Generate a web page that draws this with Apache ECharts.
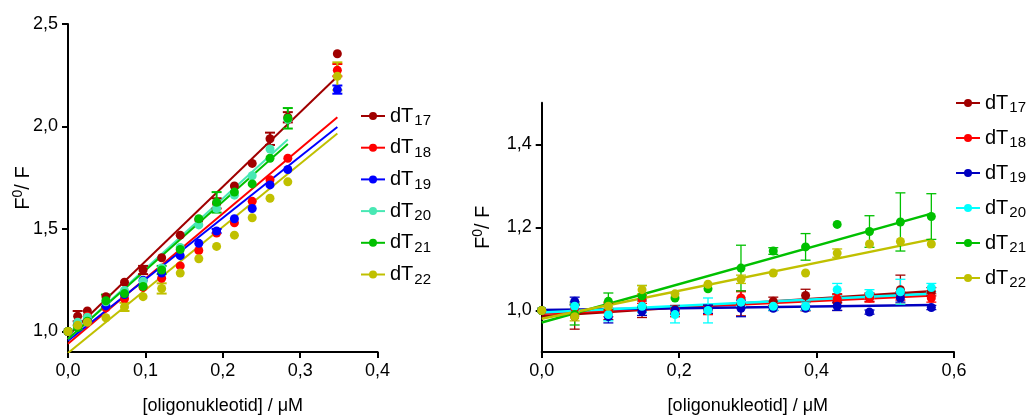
<!DOCTYPE html>
<html><head><meta charset="utf-8">
<script src="https://cdn.jsdelivr.net/npm/echarts@6/dist/echarts.min.js"></script>
<style>html,body{margin:0;padding:0;background:#fff}#c{width:1035px;height:420px}</style>
</head><body><div id="c"></div>
<script>
// ---------- data ----------
const subs = ['17', '18', '19', '20', '21', '22'];
const colorsL = ['#a00000', '#ff0000', '#0000ff', '#48e8b4', '#00c000', '#c0c000'];
const colorsR = ['#a00000', '#ff0000', '#0000c0', '#00ffff', '#00c000', '#c0c000'];

// left panel
const xL = [0, 0.0125, 0.025, 0.049, 0.073, 0.097, 0.121, 0.145, 0.169, 0.192, 0.215, 0.238, 0.261, 0.284, 0.348];
const yL17 = [1.0, 1.075, 1.10, 1.17, 1.24, 1.30, 1.36, 1.47, 1.545, 1.625, 1.71, 1.82, 1.94, 2.045, 2.355];
const yL18 = [1.0, 1.045, 1.075, 1.115, 1.16, 1.215, 1.26, 1.32, 1.395, 1.48, 1.53, 1.635, 1.74, 1.845, 2.275];
const yL19 = [1.0, 1.04, 1.06, 1.125, 1.18, 1.25, 1.285, 1.37, 1.43, 1.49, 1.55, 1.60, 1.715, 1.79, 2.18];
const yL20 = [1.0, 1.045, 1.07, 1.145, 1.20, 1.245, 1.31, 1.41, 1.52, 1.60, 1.665, 1.76, 1.89, 2.035, null];
const yL21 = [1.0, 1.02, 1.05, 1.15, 1.185, 1.22, 1.30, 1.40, 1.55, 1.63, 1.68, 1.72, 1.845, 2.04, null];
const yL22 = [1.0, 1.03, 1.045, 1.067, 1.12, 1.17, 1.21, 1.285, 1.355, 1.415, 1.47, 1.555, 1.65, 1.73, 2.245];
const eL17 = [0, 0.025, 0, 0, 0, 0.02, 0, 0, 0, 0.025, 0, 0, 0.03, 0.025, 0];
const eL18 = [0, 0, 0, 0, 0, 0, 0, 0, 0, 0, 0, 0, 0, 0, 0.03];
const eL19 = [0, 0, 0, 0, 0, 0, 0, 0, 0, 0.01, 0, 0, 0, 0, 0.02];
const eL20 = [0, 0, 0, 0, 0, 0, 0, 0, 0, 0, 0, 0, 0, 0, 0];
const eL21 = [0, 0.01, 0, 0.03, 0, 0, 0.02, 0, 0, 0.05, 0, 0, 0, 0.05, 0];
const eL22 = [0, 0, 0, 0, 0.02, 0, 0.025, 0, 0, 0, 0, 0, 0, 0, 0.068];
// fitted lines [x0, y0, x1, y1]
const fitL17 = [0, 0.979, 0.348, 2.244];
const fitL18 = [0, 0.940, 0.348, 2.045];
const fitL19 = [0, 0.955, 0.348, 1.998];
const fitL20 = [0, 0.963, 0.284, 1.937];
const fitL21 = [0, 0.963, 0.284, 1.915];
const fitL22 = [0, 0.895, 0.348, 1.966];

// right panel
const xR = [0, 0.048, 0.097, 0.146, 0.194, 0.242, 0.29, 0.337, 0.384, 0.43, 0.477, 0.522, 0.567];
const yR17 = [1.0, 0.985, 0.998, 1.003, 1.002, 1.002, 1.017, 1.022, 1.036, 1.02, 1.032, 1.05, 1.045];
const yR18 = [1.0, 1.005, 0.995, 1.027, 0.995, 1.0, 1.03, 1.01, 1.009, 1.028, 1.03, 1.035, 1.03];
const yR19 = [1.0, 1.022, 0.985, 0.998, 1.0, 1.003, 1.005, 1.005, 1.005, 1.01, 0.996, 1.03, 1.007];
const yR20 = [1.0, 1.01, 0.99, 1.01, 0.99, 1.0, 1.02, 1.01, 1.01, 1.05, 1.04, 1.045, 1.055];
const yR21 = [1.0, 0.99, 1.022, 1.035, 1.03, 1.052, 1.102, 1.143, 1.153, 1.207, 1.19, 1.213, 1.226];
const yR22 = [1.0, 0.985, 1.01, 1.05, 1.04, 1.063, 1.075, 1.09, 1.09, 1.138, 1.16, 1.166, 1.16];
const eR17 = [0, 0.03, 0.02, 0.02, 0.01, 0.01, 0.03, 0.01, 0.015, 0.02, 0.01, 0.035, 0.01];
const eR18 = [0, 0.015, 0.01, 0.01, 0.01, 0.01, 0.015, 0.01, 0.01, 0.01, 0.01, 0.01, 0.01];
const eR19 = [0, 0.01, 0.015, 0.01, 0.01, 0.01, 0.02, 0.005, 0.005, 0.01, 0.005, 0.01, 0.005];
const eR20 = [0, 0.01, 0.015, 0.015, 0.02, 0.03, 0.01, 0.01, 0.01, 0.015, 0.01, 0.03, 0.01];
const eR21 = [0, 0.025, 0.02, 0.025, 0, 0, 0.055, 0.008, 0.032, 0, 0.038, 0.07, 0.055];
const eR22 = [0, 0.01, 0.01, 0.01, 0, 0, 0.01, 0, 0, 0.01, 0, 0, 0];
const fitR17 = [0, 0.986, 0.567, 1.046];
const fitR18 = [0, 0.992, 0.567, 1.036];
const fitR19 = [0, 1.001, 0.567, 1.013];
const fitR20 = [0, 0.995, 0.567, 1.04];
const fitR21 = [0, 0.971, 0.567, 1.233];
const fitR22 = [0, 0.980, 0.567, 1.171];

const tickLabelsYL = [1.0, 1.5, 2.0, 2.5];
const tickLabelsYR = [1.0, 1.2, 1.4];

// ---------- build ----------
const panels = [
  { x: xL, ys: [yL17, yL18, yL19, yL20, yL21, yL22], es: [eL17, eL18, eL19, eL20, eL21, eL22],
    fits: [fitL17, fitL18, fitL19, fitL20, fitL21, fitL22], colors: colorsL, prefix: 'L', lw: 2, elw: 2 },
  { x: xR, ys: [yR17, yR18, yR19, yR20, yR21, yR22], es: [eR17, eR18, eR19, eR20, eR21, eR22],
    fits: [fitR17, fitR18, fitR19, fitR20, fitR21, fitR22], colors: colorsR, prefix: 'R', lw: 2.5, elw: 1.3 }
];

function errRender(color, lw, cap) {
  return function (params, api) {
    const x = api.value(0), lo = api.value(1), hi = api.value(2);
    const p1 = api.coord([x, hi]), p2 = api.coord([x, lo]);
    const h = cap / 2;
    const st = { stroke: color, lineWidth: lw };
    return { type: 'group', children: [
      { type: 'line', shape: { x1: p1[0], y1: p1[1], x2: p2[0], y2: p2[1] }, style: st },
      { type: 'line', shape: { x1: p1[0] - h, y1: p1[1], x2: p1[0] + h, y2: p1[1] }, style: st },
      { type: 'line', shape: { x1: p2[0] - h, y1: p2[1], x2: p2[0] + h, y2: p2[1] }, style: st }
    ]};
  };
}

const series = [];
panels.forEach((p, pi) => {
  p.ys.forEach((ys, si) => {
    const name = p.prefix + subs[si];
    const c = p.colors[si];
    const f = p.fits[si];
    series.push({ type: 'line', name, xAxisIndex: pi, yAxisIndex: pi, data: [[f[0], f[1]], [f[2], f[3]]],
      symbol: 'circle', symbolSize: 9, showSymbol: false, color: c, lineStyle: { color: c, width: p.lw },
      clip: true, silent: true, z: 2 });
    const errData = [];
    p.x.forEach((x, k) => { const e = p.es[si][k]; if (ys[k] != null && e > 0) errData.push([x, ys[k] - e, ys[k] + e]); });
    series.push({ type: 'custom', name, xAxisIndex: pi, yAxisIndex: pi, data: errData,
      renderItem: errRender(c, p.elw, 10), encode: { x: 0, y: [1, 2] }, z: 3, silent: true });
    const pts = [];
    p.x.forEach((x, k) => { if (ys[k] != null) pts.push([x, ys[k]]); });
    series.push({ type: 'scatter', name, xAxisIndex: pi, yAxisIndex: pi, data: pts, symbol: 'circle',
      symbolSize: 9, itemStyle: { color: c, opacity: 1 }, z: 4, silent: true });
  });
});

const FONT = 'Liberation Sans, Arial, sans-serif';
const fmt1 = v => v.toFixed(1).replace('.', ',');

function xAxis(gi, max, interval) {
  return { type: 'value', gridIndex: gi, min: 0, max, interval,
    axisLine: { show: true, onZero: false, lineStyle: { color: '#000', width: 2 } },
    axisTick: { show: true, length: 6, lineStyle: { color: '#000', width: 2 } },
    axisLabel: { color: '#000', fontSize: 18, fontFamily: FONT, margin: 10, formatter: fmt1 },
    splitLine: { show: false },
    name: '[oligonukleotid] / μM', nameLocation: 'middle', nameGap: 45, nameMoveOverlap: false,
    nameTextStyle: { color: '#000', fontSize: 18, fontFamily: FONT } };
}
function yAxis(gi, min, max, ticks, gap) {
  return { type: 'value', gridIndex: gi, min, max,
    axisLine: { show: true, onZero: false, lineStyle: { color: '#000', width: 2 } },
    axisTick: { show: true, length: 6, customValues: ticks, lineStyle: { color: '#000', width: 2 } },
    axisLabel: { color: '#000', fontSize: 18, fontFamily: FONT, margin: 10, customValues: ticks, formatter: fmt1 },
    splitLine: { show: false },
    name: '{a|F}{p|0}{a|/ F}', nameLocation: 'middle', nameGap: gap, nameRotate: 90, nameMoveOverlap: false,
    nameTextStyle: { color: '#000', fontFamily: FONT,
      rich: { a: { fontSize: 20, fontFamily: FONT, color: '#000' },
              p: { fontSize: 14, fontFamily: FONT, color: '#000', padding: [0, 0, 11, 0] } } } };
}
function legend(prefix, left, top, gap) {
  return { orient: 'vertical', left, top, itemGap: gap, itemWidth: 24, itemHeight: 10,
    data: subs.map(s => prefix + s),
    formatter: n => '{a|dT}{s|' + n.slice(1) + '}',
    textStyle: { fontFamily: FONT, color: '#000',
      rich: { a: { fontSize: 20, fontFamily: FONT, color: '#000', lineHeight: 24 },
              s: { fontSize: 15, fontFamily: FONT, color: '#000', padding: [10, 0, 0, 1] } } },
    selectedMode: false };
}

const option = {
  animation: false,
  backgroundColor: '#fff',
  grid: [
    { left: 68, top: 24, width: 309.6, height: 335, containLabel: false },
    { left: 541.7, top: 102.7, width: 412.3, height: 254, containLabel: false }
  ],
  xAxis: [xAxis(0, 0.4, 0.1), xAxis(1, 0.6, 0.2)],
  yAxis: [yAxis(0, 0.9, 2.5, tickLabelsYL, 32), yAxis(1, 0.9, 1.5, tickLabelsYR, 46)],
  legend: [legend('L', 355, 101, 9.2), legend('R', 950, 88, 12.5)],
  series
};
const chart = echarts.init(document.getElementById('c'), null, { renderer: 'canvas' });
chart.setOption(option);
</script></body></html>
